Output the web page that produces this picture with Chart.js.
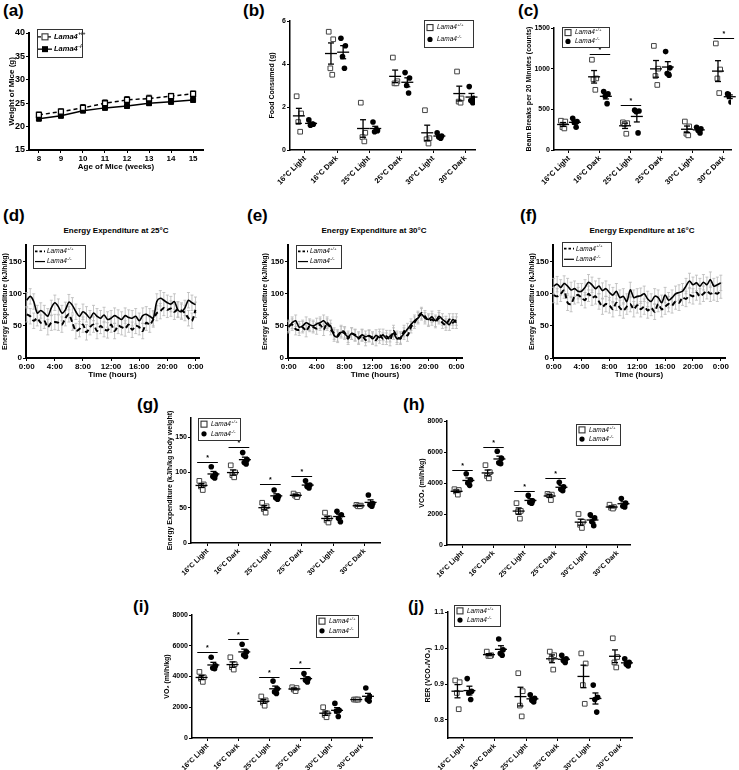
<!DOCTYPE html>
<html>
<head>
<meta charset="utf-8">
<script src="https://cdn.jsdelivr.net/npm/chart.js@4.4.1/dist/chart.umd.min.js"></script>
<style>
  body { margin: 0; background: #fff; }
  #fig { position: relative; width: 739px; height: 770px; overflow: hidden; font-family: "Liberation Sans", Arial, sans-serif; }
  #fig canvas { position: absolute; }
  .lbl { position: absolute; font-weight: bold; font-size: 17px; line-height: 1; }
  .ttl { position: absolute; font-weight: bold; font-size: 8px; line-height: 1; white-space: nowrap; transform: translateX(-50%); }
</style>
</head>
<body>
<div id="fig">
  <div class="lbl" style="left:3px;top:2px">(a)</div>
  <div class="lbl" style="left:243px;top:2px">(b)</div>
  <div class="lbl" style="left:518px;top:2px">(c)</div>
  <div class="lbl" style="left:3px;top:207px">(d)</div>
  <div class="lbl" style="left:247px;top:207px">(e)</div>
  <div class="lbl" style="left:520px;top:207px">(f)</div>
  <div class="lbl" style="left:137px;top:396px">(g)</div>
  <div class="lbl" style="left:403px;top:396px">(h)</div>
  <div class="lbl" style="left:133px;top:598px">(i)</div>
  <div class="lbl" style="left:408px;top:598px">(j)</div>
  <div class="ttl" style="left:116px;top:227px">Energy Expenditure at 25°C</div>
  <div class="ttl" style="left:374px;top:227px">Energy Expenditure at 30°C</div>
  <div class="ttl" style="left:642px;top:227px">Energy Expenditure at 16°C</div>
</div>
<script>
// ---- data ----
const weeks = [8, 9, 10, 11, 12, 13, 14, 15];
const weightWT = [22.5, 23.2, 24.0, 25.0, 25.7, 26.0, 26.5, 27.0];
const weightKO = [21.7, 22.3, 23.4, 24.0, 24.4, 25.0, 25.3, 25.7];
const weightErrWT = [0.6, 0.6, 0.7, 0.7, 0.7, 0.7, 0.6, 0.6];
const weightErrKO = [0.5, 0.4, 0.4, 0.4, 0.5, 0.5, 0.5, 0.5];

const conditions = ['16°C Light', '16°C Dark', '25°C Light', '25°C Dark', '30°C Light', '30°C Dark'];

const foodWT = [[2.5, 1.7, 1.3, 0.85], [5.5, 5.15, 3.8, 3.5], [2.2, 0.8, 0.6, 0.4], [4.3, 3.2, 3.1, 3.1], [1.85, 0.55, 0.5, 0.3], [3.65, 2.4, 2.25, 2.2]];
const foodKO = [[1.4, 1.2, 1.15, 1.2], [5.2, 4.85, 4.35, 3.8], [1.3, 0.9, 0.85, 0.95], [3.6, 3.35, 3.0, 2.65], [0.8, 0.65, 0.6, 0.55], [2.95, 2.4, 2.3, 2.2]];

const beamWT = [[360, 350, 280, 265], [1110, 880, 870, 740], [340, 330, 320, 200], [1280, 1000, 910, 800], [350, 290, 200, 180], [1310, 990, 880, 700]];
const beamKO = [[390, 350, 340, 280], [720, 690, 660, 570], [490, 480, 470, 210], [1210, 1010, 940, 920], [280, 260, 240, 210], [690, 680, 660, 590]];
const beamSigGroups = [1, 2, 5];
const beamSigLevels = [1180, 548, 1377];

const hours = [0, 0.5, 1, 1.5, 2, 2.5, 3, 3.5, 4, 4.5, 5, 5.5, 6, 6.5, 7, 7.5, 8, 8.5, 9, 9.5, 10, 10.5, 11, 11.5,
  12, 12.5, 13, 13.5, 14, 14.5, 15, 15.5, 16, 16.5, 17, 17.5, 18, 18.5, 19, 19.5, 20, 20.5, 21, 21.5, 22, 22.5, 23, 23.5, 24];
const ee25WT = [68, 65, 58, 62, 55, 58, 48, 55, 56, 55, 52, 62, 68, 55, 42, 45, 52, 40, 48, 52, 42, 50, 45, 43,
  52, 42, 50, 48, 46, 52, 44, 50, 48, 42, 55, 52, 60, 70, 73, 78, 75, 77, 72, 76, 74, 70, 62, 58, 75];
const ee25KO = [90, 96, 88, 70, 74, 70, 65, 78, 86, 80, 70, 75, 87, 82, 72, 65, 72, 68, 62, 70, 65, 62, 67, 60,
  62, 66, 63, 60, 66, 63, 62, 65, 58, 66, 68, 65, 62, 88, 93, 90, 86, 84, 88, 75, 72, 78, 90, 86, 83];
const ee30WT = [50, 52, 45, 44, 48, 42, 50, 48, 46, 52, 44, 55, 45, 38, 35, 42, 40, 30, 38, 36, 30, 35, 28, 34,
  32, 28, 36, 30, 34, 28, 42, 33, 30, 42, 35, 48, 55, 64, 70, 65, 58, 60, 56, 62, 55, 52, 60, 55, 60];
const ee30KO = [48, 55, 58, 48, 50, 55, 52, 50, 53, 55, 58, 52, 50, 35, 33, 40, 38, 33, 38, 35, 32, 36, 33, 35,
  30, 35, 32, 36, 30, 34, 38, 30, 32, 38, 45, 52, 58, 62, 68, 62, 60, 64, 58, 65, 60, 56, 52, 60, 55];
const ee16WT = [98, 96, 100, 105, 86, 84, 96, 98, 94, 90, 100, 94, 96, 88, 80, 84, 82, 76, 86, 78, 74, 80, 84, 76,
  82, 76, 80, 74, 78, 72, 84, 76, 80, 84, 82, 88, 86, 94, 92, 98, 96, 102, 96, 100, 104, 100, 102, 100, 105];
const ee16KO = [112, 115, 110, 116, 112, 106, 108, 104, 104, 110, 118, 114, 108, 112, 105, 108, 102, 98, 104, 94, 96, 88, 106, 94,
  96, 97, 100, 92, 88, 96, 94, 86, 98, 90, 94, 100, 102, 104, 112, 120, 114, 117, 112, 118, 114, 122, 112, 114, 117];
const semTrace25 = 12, semTrace30 = 9, semTrace16 = 12;

const eeWT = [[88, 83, 80, 75], [110, 100, 96, 93], [57, 52, 48, 43], [70, 68, 67, 65], [43, 35, 32, 29], [54, 53, 52, 52]];
const eeKO = [[108, 97, 94, 92], [128, 118, 114, 112], [75, 66, 64, 62], [88, 82, 80, 78], [45, 40, 35, 30], [68, 56, 54, 52]];
const eeSigGroups = [0, 1, 2, 3];
const eeSigLevels = [115, 136, 83, 95];

const vco2WT = [[3600, 3550, 3450, 3250], [5150, 4700, 4450, 4300], [2700, 2200, 2150, 1700], [3300, 3250, 3200, 2900], [2000, 1500, 1300, 1100], [2600, 2450, 2400, 2350]];
const vco2KO = [[4600, 4200, 4000, 3850], [6050, 5600, 5300, 5250], [3200, 2850, 2750, 2700], [4050, 3750, 3600, 3500], [1950, 1750, 1500, 1250], [3000, 2700, 2500, 2450]];
const vco2SigGroups = [0, 1, 2, 3];
const vco2SigLevels = [4840, 6320, 3480, 4320];

const vo2WT = [[4300, 3950, 3850, 3650], [5250, 4800, 4600, 4450], [2700, 2450, 2300, 2100], [3300, 3250, 3150, 3050], [2000, 1600, 1500, 1350], [2500, 2500, 2500, 2500]];
const vo2KO = [[5250, 4700, 4550, 4500], [6100, 5600, 5400, 5300], [3700, 3200, 3000, 2900], [4200, 3850, 3750, 3650], [2250, 1800, 1750, 1400], [3250, 2700, 2500, 2400]];
const vo2SigGroups = [0, 1, 2, 3];
const vo2SigLevels = [5590, 6440, 3970, 4550];

const rerWT = [[0.91, 0.905, 0.875, 0.83], [0.99, 0.98, 0.978, 0.978], [0.93, 0.88, 0.84, 0.81], [0.99, 0.98, 0.97, 0.94], [0.985, 0.957, 0.897, 0.845], [1.027, 0.975, 0.96, 0.946]];
const rerKO = [[0.915, 0.88, 0.875, 0.857], [1.025, 0.995, 0.985, 0.98], [0.87, 0.86, 0.855, 0.85], [0.98, 0.97, 0.965, 0.96], [0.897, 0.863, 0.857, 0.822], [0.97, 0.96, 0.955, 0.95]];

// ---- look ----
const FONT = '"Liberation Sans", Arial, sans-serif';
const offWT = -0.19, offKO = 0.19;
const jitter = [-0.07, 0.07, -0.02, 0.04];
const fig = document.getElementById('fig');

function addCanvas(box) {
  const c = document.createElement('canvas');
  c.width = box[2]; c.height = box[3];
  c.style.left = box[0] + 'px'; c.style.top = box[1] + 'px';
  fig.appendChild(c);
  return c;
}

function seg(ctx, x0, y0, x1, y1) {
  ctx.beginPath(); ctx.moveTo(x0, y0); ctx.lineTo(x1, y1); ctx.stroke();
}

function mean(a) { return a.reduce((s, v) => s + v, 0) / a.length; }
function sem(a) {
  const m = mean(a);
  return Math.sqrt(a.reduce((s, v) => s + (v - m) * (v - m), 0) / (a.length - 1) / a.length);
}

function marker(ctx, type, x, y) {
  ctx.save();
  ctx.strokeStyle = '#000'; ctx.fillStyle = '#000'; ctx.lineWidth = 1.3;
  if (type === 'sqLine' || type === 'blkLine') {
    ctx.setLineDash(type === 'sqLine' ? [3, 2] : []);
    seg(ctx, x - 7, y, x + 7, y);
    ctx.setLineDash([]);
  }
  if (type === 'sq' || type === 'sqLine') {
    ctx.fillStyle = '#fff'; ctx.fillRect(x - 3, y - 3, 6, 6);
    ctx.lineWidth = 1.1; ctx.strokeStyle = '#333'; ctx.strokeRect(x - 3, y - 3, 6, 6);
  }
  if (type === 'blkLine') ctx.fillRect(x - 3, y - 3, 6, 6);
  if (type === 'dot') { ctx.beginPath(); ctx.arc(x, y, 2.6, 0, Math.PI * 2); ctx.fill(); }
  if (type === 'dash') { ctx.lineWidth = 1.8; ctx.setLineDash([2.5, 2]); seg(ctx, x - 5, y, x + 5, y); }
  if (type === 'solid') { ctx.lineWidth = 1.2; seg(ctx, x - 5, y, x + 5, y); }
  ctx.restore();
}

// framed legend with italic gene names
const boxLegend = {
  id: 'boxLegend',
  afterDraw(chart, args, opts) {
    if (!opts.box) return;
    const ctx = chart.ctx;
    const [bx, by, bw, bh] = opts.box;
    ctx.save();
    ctx.strokeStyle = '#333'; ctx.lineWidth = 1;
    ctx.strokeRect(bx + 0.5, by + 0.5, bw, bh);
    opts.items.forEach((it, k) => {
      const yy = by + bh * (k === 0 ? 0.28 : 0.72);
      marker(ctx, it.marker, bx + opts.mx, yy);
      const w8 = opts.bold ? 'bold ' : '';
      ctx.fillStyle = '#000'; ctx.textAlign = 'left'; ctx.textBaseline = 'middle';
      ctx.font = `italic ${w8}${opts.size}px ${FONT}`;
      ctx.fillText('Lama4', bx + opts.tx, yy);
      const w = ctx.measureText('Lama4').width;
      ctx.font = `italic ${w8}${opts.size * 0.65}px ${FONT}`;
      ctx.fillText(it.sup, bx + opts.tx + w + 0.5, yy - opts.size * 0.38);
    });
    ctx.restore();
  }
};

// vertical error bars behind the data
const errBars = {
  id: 'errBars',
  beforeDatasetsDraw(chart) {
    const { ctx, scales: { x, y } } = chart;
    chart.data.datasets.forEach(ds => {
      if (ds.err == null) return;
      ctx.save();
      ctx.strokeStyle = ds.errColor; ctx.lineWidth = ds.errWidth;
      ds.data.forEach((p, i) => {
        const e = Array.isArray(ds.err) ? ds.err[i] : ds.err;
        const px = x.getPixelForValue(p.x);
        const y0 = y.getPixelForValue(p.y - e), y1 = y.getPixelForValue(p.y + e);
        seg(ctx, px, y0, px, y1);
        if (ds.errCap) {
          seg(ctx, px - ds.errCap, y0, px + ds.errCap, y0);
          seg(ctx, px - ds.errCap, y1, px + ds.errCap, y1);
        }
      });
      ctx.restore();
    });
  }
};

// mean line with SEM whiskers for the dot plots
const meanSem = {
  id: 'meanSem',
  afterDatasetsDraw(chart) {
    const { ctx, scales: { x, y } } = chart;
    ctx.save();
    ctx.strokeStyle = '#000'; ctx.lineWidth = 1.3;
    chart.data.datasets.forEach(ds => {
      if (!ds.groups) return;
      ds.groups.forEach((vals, g) => {
        const m = mean(vals), s = sem(vals);
        const cx = x.getPixelForValue(g + ds.offset);
        const ym = y.getPixelForValue(m), y0 = y.getPixelForValue(m - s), y1 = y.getPixelForValue(m + s);
        seg(ctx, cx - 6, ym, cx + 6, ym);
        seg(ctx, cx, y0, cx, y1);
        seg(ctx, cx - 3, y0, cx + 3, y0);
        seg(ctx, cx - 3, y1, cx + 3, y1);
      });
    });
    ctx.restore();
  }
};

// significance bars with a star
const sigBars = {
  id: 'sigBars',
  afterDatasetsDraw(chart, args, opts) {
    if (!opts.groups) return;
    const { ctx, scales: { x, y } } = chart;
    ctx.save();
    ctx.strokeStyle = '#000'; ctx.fillStyle = '#000'; ctx.lineWidth = 1;
    ctx.font = `bold 7px ${FONT}`; ctx.textAlign = 'center'; ctx.textBaseline = 'bottom';
    opts.groups.forEach((g, k) => {
      const x0 = x.getPixelForValue(g - 0.33), x1 = x.getPixelForValue(g + 0.33);
      const yy = Math.round(y.getPixelForValue(opts.levels[k])) + 0.5;
      seg(ctx, x0, yy, x1, yy);
      ctx.fillText('*', (x0 + x1) / 2, yy - 0.5);
    });
    ctx.restore();
  }
};

Chart.register(boxLegend, errBars, meanSem, sigBars);

function scaleX(box, area, o) {
  return {
    type: 'linear', min: o.min, max: o.max,
    afterBuildTicks: s => { s.ticks = o.ticks.map(v => ({ value: v })); },
    afterFit: s => { s.height = box[1] + box[3] - area[3]; s.paddingLeft = 0; s.paddingRight = 0; },
    grid: { drawOnChartArea: false, color: '#000', lineWidth: 1, tickLength: 3 },
    border: { color: '#000', width: o.line },
    ticks: {
      color: '#000', autoSkip: false, maxRotation: o.rot || 0, minRotation: o.rot || 0, padding: 1,
      font: { family: FONT, size: o.font, weight: 'bold' }, callback: o.label
    },
    title: o.title
      ? { display: true, text: o.title, color: '#000', font: { family: FONT, size: o.titleSize, weight: 'bold' }, padding: { top: 0, bottom: o.titlePad } }
      : { display: false }
  };
}

function scaleY(box, area, o) {
  return {
    type: 'linear', min: o.min, max: o.max,
    afterBuildTicks: s => { s.ticks = o.ticks.map(v => ({ value: v })); },
    afterFit: s => { s.width = area[0] - box[0]; s.paddingTop = 0; s.paddingBottom = 0; },
    grid: { drawOnChartArea: false, color: '#000', lineWidth: 1, tickLength: 3 },
    border: { color: '#000', width: o.line },
    ticks: { color: '#000', autoSkip: false, padding: 1, font: { family: FONT, size: o.font, weight: 'bold' }, callback: o.label || (v => String(v)) },
    title: { display: true, text: o.title, color: '#000', font: { family: FONT, size: o.titleSize, weight: 'bold' }, padding: { top: o.titlePad, bottom: 0 } }
  };
}

function legendOpts(box, lg, items, size, mx, tx, bold) {
  return { box: [lg[0] - box[0], lg[1] - box[1], lg[2], lg[3]], items, size, mx, tx, bold };
}

function makeChart(box, area, type, datasets, scales, plugins) {
  return new Chart(addCanvas(box), {
    type,
    data: { datasets },
    options: {
      responsive: false, animation: false, events: [],
      layout: { padding: { left: 0, top: area[1] - box[1], right: box[0] + box[2] - area[2], bottom: 0 } },
      scales,
      plugins: Object.assign({ legend: { display: false }, tooltip: { enabled: false } }, plugins)
    }
  });
}

function groupPoints(groups, offset) {
  const pts = [];
  groups.forEach((vals, g) => vals.forEach((v, k) => pts.push({ x: g + offset + jitter[k], y: v })));
  return pts;
}

const wtItems = [{ marker: 'sq', sup: '+/+' }, { marker: 'dot', sup: '-/-' }];

function dotPlot(p) {
  const ds = [
    { data: groupPoints(p.wt, offWT), groups: p.wt, offset: offWT, pointStyle: 'rect', pointRadius: 3.3,
      backgroundColor: '#fff', borderColor: '#444', borderWidth: 1 },
    { data: groupPoints(p.ko, offKO), groups: p.ko, offset: offKO, pointStyle: 'circle', pointRadius: 2.8,
      backgroundColor: '#000', borderColor: '#000', borderWidth: 0 }
  ];
  const scales = {
    x: scaleX(p.box, p.area, { min: p.xmin, max: p.xmax, ticks: [0, 1, 2, 3, 4, 5], label: v => conditions[v], rot: 45, font: p.catFont, line: 1.5 }),
    y: scaleY(p.box, p.area, { min: p.ymin, max: p.ymax, ticks: p.yticks, label: p.ylabel, font: p.tickFont, line: 1.5, title: p.title, titleSize: p.titleSize, titlePad: p.titlePad })
  };
  makeChart(p.box, p.area, 'scatter', ds, scales, {
    boxLegend: legendOpts(p.box, p.legend, wtItems, p.legSize, 6, 13, false),
    sigBars: p.sig ? { groups: p.sig[0], levels: p.sig[1] } : {}
  });
}

function tracePlot(p) {
  const ds = [
    { data: hours.map((h, i) => ({ x: h, y: p.wt[i] })), err: p.sem, errColor: '#b8b8b8', errWidth: 0.8, errCap: 1.5,
      borderColor: '#000', borderWidth: 2, borderDash: [5, 3], pointRadius: 0, tension: 0.3 },
    { data: hours.map((h, i) => ({ x: h, y: p.ko[i] })), err: p.sem, errColor: '#b8b8b8', errWidth: 0.8, errCap: 1.5,
      borderColor: '#000', borderWidth: 1.6, pointRadius: 0, tension: 0.3 }
  ];
  const scales = {
    x: scaleX(p.box, p.area, { min: -0.1, max: p.xmax, ticks: [0, 4, 8, 12, 16, 20, 24], label: v => (v % 24) + ':00', font: 8, line: 2,
      title: 'Time (hours)', titleSize: 8, titlePad: 5 }),
    y: scaleY(p.box, p.area, { min: 0, max: 176, ticks: [0, 50, 100, 150], font: 8, line: 2,
      title: 'Energy Expenditure (kJ/h/kg)', titleSize: 7, titlePad: p.titlePad })
  };
  makeChart(p.box, p.area, 'line', ds, scales, {
    boxLegend: legendOpts(p.box, p.legend, [{ marker: 'dash', sup: '+/+' }, { marker: 'solid', sup: '-/-' }], 6.5, 7, 14, false)
  });
}

// (a) body weight
(function () {
  const box = [0, 20, 212, 155], area = [29, 33, 203, 150];
  const ds = [
    { type: 'line', data: weeks.map((w, i) => ({ x: w, y: weightWT[i] })), err: weightErrWT, errColor: '#000', errWidth: 1, errCap: 2.5,
      borderColor: '#000', borderWidth: 1.5, borderDash: [4, 3], pointStyle: 'rect', pointRadius: 3.5,
      pointBackgroundColor: '#fff', pointBorderColor: '#000', pointBorderWidth: 1.3 },
    { type: 'line', data: weeks.map((w, i) => ({ x: w, y: weightKO[i] })), err: weightErrKO, errColor: '#000', errWidth: 1, errCap: 2.5,
      borderColor: '#000', borderWidth: 1.5, pointStyle: 'rect', pointRadius: 3.5,
      pointBackgroundColor: '#000', pointBorderColor: '#000', pointBorderWidth: 1 }
  ];
  makeChart(box, area, 'line', ds, {
    x: scaleX(box, area, { min: 7.55, max: 15.45, ticks: weeks, label: v => String(v), font: 8, line: 2,
      title: 'Age of Mice (weeks)', titleSize: 8, titlePad: 3 }),
    y: scaleY(box, area, { min: 15, max: 40, ticks: [15, 20, 25, 30, 35, 40], font: 9, line: 2,
      title: 'Weight of Mice (g)', titleSize: 8, titlePad: 7 })
  }, {
    boxLegend: legendOpts(box, [37, 29, 45, 28], [{ marker: 'sqLine', sup: '+/+' }, { marker: 'blkLine', sup: '-/-' }], 7.5, 8, 17, true)
  });
})();

// (b) food consumed
dotPlot({ box: [240, 10, 242, 195], area: [290, 21, 475, 150], xmin: -0.467, xmax: 5.3,
  wt: foodWT, ko: foodKO, ymin: 0, ymax: 6, yticks: [0, 2, 4, 6], tickFont: 7, catFont: 7.5,
  title: 'Food Consumed (g)', titleSize: 7, titlePad: 28, legend: [424, 20, 49, 27], legSize: 6.5 });

// (c) beam breaks
dotPlot({ box: [490, 10, 249, 190], area: [554, 28, 731, 150], xmin: -0.484, xmax: 5.23,
  wt: beamWT, ko: beamKO, ymin: 0, ymax: 1500, yticks: [0, 500, 1000, 1500], tickFont: 7, catFont: 7.5,
  title: 'Beam Breaks per 20 Minutes (counts)', titleSize: 7, titlePad: 35, legend: [562, 27, 47, 20], legSize: 6.5,
  sig: [beamSigGroups, beamSigLevels] });

// (d)(e)(f) energy expenditure traces
tracePlot({ box: [0, 236, 206, 149], area: [26, 245, 199, 358], xmax: 24.5, wt: ee25WT, ko: ee25KO, sem: semTrace25, titlePad: 1, legend: [33, 245, 52, 23] });
tracePlot({ box: [258, 236, 210, 149], area: [288, 245, 462, 358], xmax: 24.8, wt: ee30WT, ko: ee30KO, sem: semTrace30, titlePad: 3, legend: [296, 245, 45, 23] });
tracePlot({ box: [518, 236, 214, 149], area: [553, 245, 725, 358], xmax: 24.6, wt: ee16WT, ko: ee16KO, sem: semTrace16, titlePad: 10, legend: [562, 242, 49, 24] });

// (g) energy expenditure per condition
dotPlot({ box: [140, 410, 245, 180], area: [191, 418, 380, 543], xmin: -0.525, xmax: 5.49,
  wt: eeWT, ko: eeKO, ymin: 0, ymax: 177, yticks: [0, 50, 100, 150], tickFont: 7, catFont: 7,
  title: 'Energy Expenditure (kJ/h/kg body weight)', titleSize: 7, titlePad: 26, legend: [198, 418, 42, 22], legSize: 6.5,
  sig: [eeSigGroups, eeSigLevels] });

// (h) VCO2
dotPlot({ box: [398, 413, 241, 177], area: [447, 421, 630, 545], xmin: -0.5, xmax: 5.4,
  wt: vco2WT, ko: vco2KO, ymin: 0, ymax: 8000, yticks: [0, 2000, 4000, 6000, 8000], tickFont: 7, catFont: 7,
  title: 'VCO₂ (ml/h/kg)', titleSize: 7, titlePad: 20, legend: [576, 424, 44, 21], legSize: 6.5,
  sig: [vco2SigGroups, vco2SigLevels] });

// (i) VO2
dotPlot({ box: [140, 607, 240, 163], area: [192, 615, 372, 738], xmin: -0.5, xmax: 5.32,
  wt: vo2WT, ko: vo2KO, ymin: 0, ymax: 8000, yticks: [0, 2000, 4000, 6000, 8000], tickFont: 7, catFont: 7,
  title: 'VO₂ (ml/h/kg)', titleSize: 7, titlePad: 23, legend: [316, 615, 42, 22], legSize: 6.5,
  sig: [vo2SigGroups, vo2SigLevels] });

// (j) RER
dotPlot({ box: [398, 604, 241, 166], area: [448, 612, 632, 738], xmin: -0.49, xmax: 5.35,
  wt: rerWT, ko: rerKO, ymin: 0.75, ymax: 1.1, yticks: [0.8, 0.9, 1.0, 1.1], ylabel: v => v.toFixed(1), tickFont: 7, catFont: 7,
  title: 'RER (VCO₂/VO₂)', titleSize: 7, titlePad: 26, legend: [454, 605, 46, 21], legSize: 6.5 });
</script>
</body>
</html>
